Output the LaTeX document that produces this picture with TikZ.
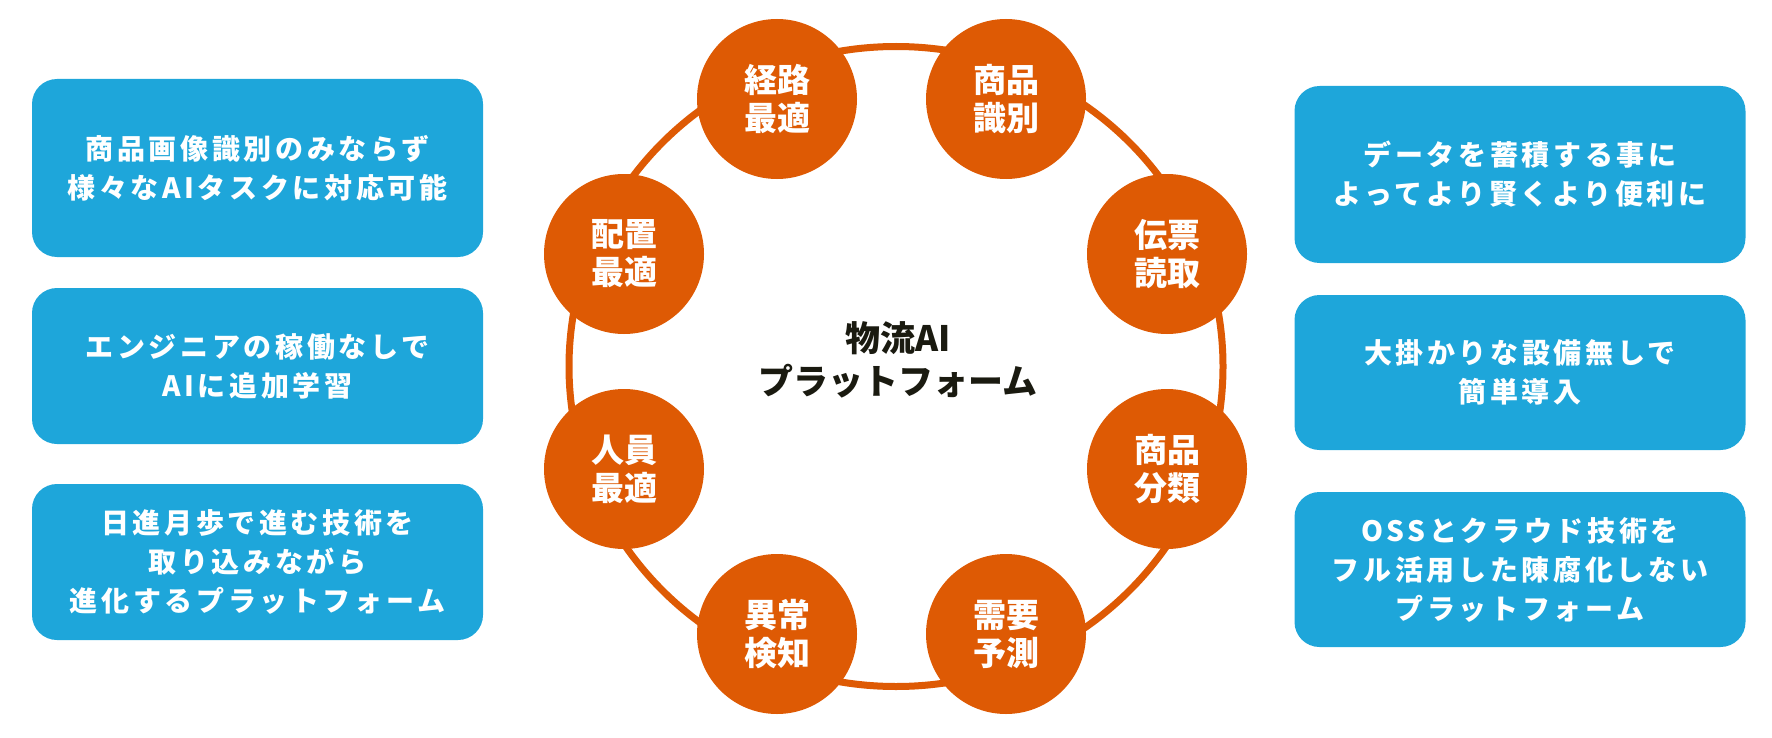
\documentclass[tikz,border=0pt]{standalone}
\usepackage{fontspec}
\newfontfamily\jp{Noto Sans CJK JP}
\newfontfamily\jpsp{Noto Sans CJK JP}[LetterSpace=13]
\definecolor{boxblue}{RGB}{30,166,218}
\definecolor{ringorange}{RGB}{222,90,4}
\definecolor{hubtext}{RGB}{26,26,16}
\begin{document}
\begin{tikzpicture}[x=0.5pt,y=-0.5pt,
  infobox/.style={fill=boxblue, rounded corners=12.5pt, minimum width=225.5pt,
    text=white, align=center, inner sep=0pt,
    font=\jpsp\bfseries\fontsize{14}{19.5}\selectfont},
  topic/.style={circle, fill=ringorange, minimum size=80pt, inner sep=0pt,
    text=white, align=center, font=\jp\bfseries\fontsize{16.5}{19}\selectfont},
  hubstyle/.style={align=center, text=hubtext, inner sep=0pt,
    font=\jp\bfseries\fontsize{17.5}{21.5}\selectfont}]
\useasboundingbox (0,0) rectangle (1772,738);

% left boxes
\node[infobox, minimum height=89pt] (l1) at (257.5,168) {商品画像識別のみならず\\様々なAIタスクに対応可能};
\node[infobox, minimum height=78pt] (l2) at (257.5,366) {エンジニアの稼働なしで\\AIに追加学習};
\node[infobox, minimum height=78pt] (l3) at (257.5,562) {日進月歩で進む技術を\\取り込みながら\\進化するプラットフォーム};

% right boxes
\node[infobox, minimum height=88.5pt] (r1) at (1520,174.5) {データを蓄積する事に\\よってより賢くより便利に};
\node[infobox, minimum height=77.5pt] (r2) at (1520,372.5) {大掛かりな設備無しで\\簡単導入};
\node[infobox, minimum height=77.5pt] (r3) at (1520,569.5) {OSSとクラウド技術を\\フル活用した陳腐化しない\\プラットフォーム};

% ring
\coordinate (ringc) at (896,366.5);
\draw[ringorange, line width=3.5pt] (ringc) ellipse [x radius=163.5pt, y radius=160pt];

% topic circles
\node[topic] (c1) at (777,99) {経路\\最適};
\node[topic] (c2) at (1006,99) {商品\\識別};
\node[topic] (c3) at (1167,254) {伝票\\読取};
\node[topic] (c4) at (1167,469) {商品\\分類};
\node[topic] (c5) at (1006,634) {需要\\予測};
\node[topic] (c6) at (777,634) {異常\\検知};
\node[topic] (c7) at (624,469) {人員\\最適};
\node[topic] (c8) at (624,254) {配置\\最適};

% hub
\node[hubstyle] (hub) at (898,360) {物流AI\\プラットフォーム};
\end{tikzpicture}
\end{document}
